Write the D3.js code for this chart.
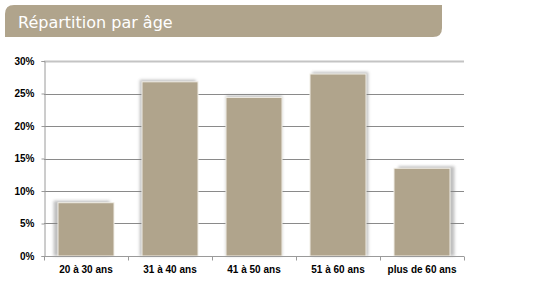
<!DOCTYPE html>
<html><head><meta charset="utf-8">
<script src="https://cdn.jsdelivr.net/npm/d3@7/dist/d3.min.js"></script>
<style>
html,body{margin:0;padding:0;background:#fff;}
svg{display:block;}
</style></head>
<body>
<script>
const title = "Répartition par âge";
const categories = ["20 à 30 ans", "31 à 40 ans", "41 à 50 ans", "51 à 60 ans", "plus de 60 ans"];
const values = [0.082, 0.268, 0.244, 0.280, 0.135];
const yTicks = [0, 0.05, 0.10, 0.15, 0.20, 0.25, 0.30];

const W = 550, H = 289;
const svg = d3.select("body").append("svg").attr("width", W).attr("height", H);

const defs = svg.append("defs");
const f = defs.append("filter").attr("id","sh").attr("x","-30%").attr("y","-30%").attr("width","160%").attr("height","160%");
f.append("feGaussianBlur").attr("stdDeviation", 1.5);

// Title bar
const tb = {x:5, y:5, w:437, h:32, r:9};
svg.append("path")
  .attr("d", `M${tb.x+tb.r},${tb.y} H${tb.x+tb.w} V${tb.y+tb.h-tb.r} Q${tb.x+tb.w},${tb.y+tb.h} ${tb.x+tb.w-tb.r},${tb.y+tb.h} H${tb.x} V${tb.y+tb.r} Q${tb.x},${tb.y} ${tb.x+tb.r},${tb.y} Z`)
  .attr("fill", "#b0a48c");
svg.append("text").attr("x", 18).attr("y", 28)
  .attr("fill", "#fff").attr("font-family", "'DejaVu Sans', sans-serif")
  .attr("font-size", 16).text(title);

const x = d3.scaleBand().domain(categories).range([44, 464]).paddingInner(0.333).paddingOuter(0.1665);
const y = d3.scaleLinear().domain([0, 0.30]).range([256, 61]);

// gridlines
const g = svg.append("g");
g.selectAll("line.grid").data(yTicks.filter(d => d > 0)).join("line")
  .attr("x1", 44).attr("x2", 464)
  .attr("y1", d => Math.round(y(d)) + 0.5).attr("y2", d => Math.round(y(d)) + 0.5)
  .attr("stroke", d => d === 0.30 ? "#c4c4c4" : "#8a8a8a")
  .attr("stroke-width", d => d === 0.30 ? 2 : 1);

// Y axis
const yAxis = d3.axisLeft(y).tickValues(yTicks).tickFormat(d3.format(".0%")).tickSize(3).tickPadding(7);
const ya = svg.append("g").attr("transform", "translate(44.5,0)").call(yAxis);
ya.select(".domain").attr("stroke", "#9a9a9a");
ya.selectAll(".tick line").attr("stroke", "#9a9a9a");
ya.selectAll(".tick text").attr("font-family", "'Liberation Sans', Arial, sans-serif")
  .attr("font-weight", "bold").attr("font-size", 10).attr("fill", "#000");

// bars
const bars = svg.append("g");
categories.forEach((c, i) => {
  const bx = x(c), bw = x.bandwidth(), by = y(values[i]), bh = 256 - y(values[i]);
  const dx = (i - 2) * 2.2;
  bars.append("rect")
    .attr("x", bx + dx).attr("y", by - 2).attr("width", bw).attr("height", bh + 2)
    .attr("fill", "#808080").attr("opacity", 0.5).attr("filter", "url(#sh)");
  bars.append("rect")
    .attr("x", bx).attr("y", by).attr("width", bw).attr("height", bh)
    .attr("fill", "#b0a48c").attr("stroke", "#f2efe8").attr("stroke-width", 1);
});

// X axis
const xAxis = d3.axisBottom(x).tickSize(0).tickPadding(9);
const xa = svg.append("g").attr("transform", "translate(0,256.5)").call(xAxis);
xa.select(".domain").attr("stroke", "#9a9a9a").attr("d", "M44,0H464");
xa.selectAll(".tick text").attr("font-family", "'Liberation Sans', Arial, sans-serif")
  .attr("font-weight", "bold").attr("font-size", 10).attr("fill", "#000");
const bounds = [44, 128, 212, 296, 380, 464];
xa.selectAll("line.sep").data(bounds).join("line")
  .attr("x1", d => d + 0.5).attr("x2", d => d + 0.5).attr("y1", 0).attr("y2", 4)
  .attr("stroke", "#9a9a9a");
</script>
</body></html>
